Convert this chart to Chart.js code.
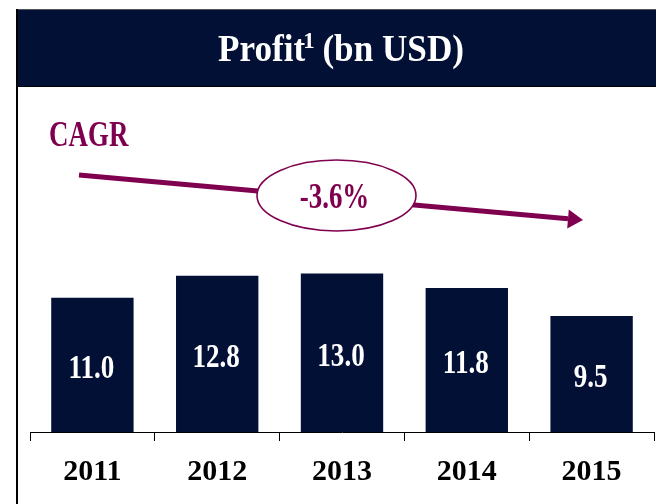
<!DOCTYPE html>
<html lang="en">
<head>
    <meta charset="UTF-8">
    <title>Profit</title>
    <script src="https://cdn.jsdelivr.net/npm/chart.js"></script>
    <style>
        html, body { margin: 0; padding: 0; background: #fff; }
        #wrap { width: 656px; height: 504px; position: relative; }
    </style>
</head>
<body>
<div id="wrap"><canvas id="profitChart" width="656" height="504"></canvas></div>
<script>
    // data
    const years = ['2011', '2012', '2013', '2014', '2015'];
    const profit = [11.0, 12.8, 13.0, 11.8, 9.5];
    const cagrText = '-3.6%';

    const navy = '#021036';
    const maroon = '#800050';
    const serif = '"Liberation Serif", "Times New Roman", serif';

    // narrow bold serif text (squeezed horizontally like the original)
    function squeezed(ctx, text, x, y, size, sx, align) {
        ctx.save();
        ctx.font = 'bold ' + size + 'px ' + serif;
        ctx.textAlign = align || 'center';
        ctx.translate(x, y);
        ctx.scale(sx, 1);
        ctx.fillText(text, 0, 0);
        ctx.restore();
    }

    // header box, left frame, CAGR arrow + ellipse, bar values
    const decorPlugin = {
        id: 'decor',
        beforeDraw(chart) {
            const ctx = chart.ctx;
            ctx.save();
            ctx.fillStyle = '#fff';
            ctx.fillRect(0, 0, 656, 504);

            // header
            ctx.fillStyle = navy;
            ctx.fillRect(16, 9, 640, 78);
            ctx.fillStyle = '#555';
            ctx.fillRect(16, 9, 640, 1);
            ctx.fillStyle = '#000';
            ctx.fillRect(16, 86, 640, 1);
            ctx.fillRect(16, 9, 2, 495);

            // title with superscript
            ctx.fillStyle = '#fff';
            ctx.textBaseline = 'alphabetic';
            const sx = 0.95;
            ctx.font = 'bold 37px ' + serif;
            const w1 = ctx.measureText('Profit').width * sx;
            const w3 = ctx.measureText(' (bn USD)').width * sx;
            ctx.font = 'bold 24px ' + serif;
            const w2 = ctx.measureText('1').width * sx;
            const x = 341 - (w1 + w2 + w3 - 3) / 2;
            squeezed(ctx, 'Profit', x, 61, 37, sx, 'left');
            squeezed(ctx, '1', x + w1 - 2, 48, 24, sx, 'left');
            squeezed(ctx, ' (bn USD)', x + w1 + w2 - 3, 61, 37, sx, 'left');

            // CAGR label
            ctx.fillStyle = maroon;
            squeezed(ctx, 'CAGR', 49, 146, 35, 0.77, 'left');

            // arrow
            ctx.strokeStyle = maroon;
            ctx.lineWidth = 5;
            ctx.beginPath();
            ctx.moveTo(79, 175);
            ctx.lineTo(568, 218.7);
            ctx.stroke();
            ctx.beginPath();
            ctx.moveTo(583, 220);
            ctx.lineTo(568.8, 209.5);
            ctx.lineTo(567.2, 228.5);
            ctx.closePath();
            ctx.fill();

            // ellipse
            ctx.beginPath();
            ctx.ellipse(336.5, 195.5, 79.5, 35.5, 0, 0, Math.PI * 2);
            ctx.fillStyle = '#fff';
            ctx.fill();
            ctx.lineWidth = 1.6;
            ctx.stroke();
            ctx.fillStyle = maroon;
            squeezed(ctx, cagrText, 334.5, 208, 35, 0.77);
            ctx.restore();
        },
        afterDatasetsDraw(chart) {
            const ctx = chart.ctx;
            const meta = chart.getDatasetMeta(0);
            ctx.save();
            ctx.fillStyle = '#fff';
            ctx.textBaseline = 'alphabetic';
            meta.data.forEach((bar, i) => {
                const cy = (bar.y + bar.base) / 2;
                squeezed(ctx, profit[i].toFixed(1), bar.x - 1, cy + 13, 33, 0.82);
            });
            ctx.restore();
        }
    };

    new Chart(document.getElementById('profitChart').getContext('2d'), {
        type: 'bar',
        data: {
            labels: years,
            datasets: [{
                data: profit,
                backgroundColor: navy,
                borderWidth: 0,
                barPercentage: 0.66,
                categoryPercentage: 1
            }]
        },
        options: {
            responsive: false,
            animation: false,
            events: [],
            layout: { padding: { left: 30, right: 2, top: 188, bottom: 1 } },
            plugins: {
                legend: { display: false },
                tooltip: { enabled: false }
            },
            scales: {
                x: {
                    offset: true,
                    grid: {
                        display: true,
                        offset: true,
                        drawOnChartArea: false,
                        drawTicks: true,
                        tickLength: 9,
                        color: '#000',
                        lineWidth: 1
                    },
                    border: { display: true, color: '#000', width: 1 },
                    ticks: {
                        color: '#000',
                        padding: 13,
                        font: { family: serif, size: 30, weight: 'bold' }
                    }
                },
                y: {
                    display: false,
                    min: 0,
                    max: 20
                }
            }
        },
        plugins: [decorPlugin]
    });
</script>
</body>
</html>
